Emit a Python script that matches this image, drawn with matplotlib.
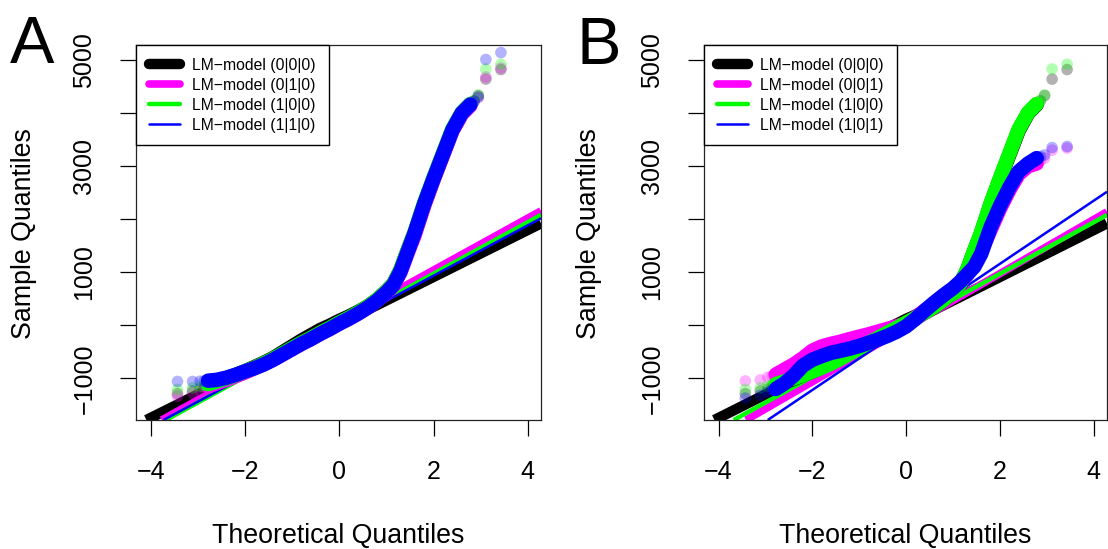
import numpy as np
import matplotlib
matplotlib.use('Agg')
import matplotlib.pyplot as plt
from matplotlib.lines import Line2D

plt.rcParams['font.family'] = ['Liberation Sans', 'DejaVu Sans']

# ---------------- data ----------------
theo_q = [-3.43, -3.11, -2.95, -2.86, -2.78, -2.6, -2.4, -2.2, -2.0, -1.8,
          -1.6, -1.4, -1.2, -1.0, -0.8, -0.6, -0.4, -0.2, 0.0, 0.2,
          0.4, 0.6, 0.8, 1.0, 1.15, 1.3, 1.45, 1.6, 1.8, 2.0,
          2.2, 2.4, 2.6, 2.78, 2.86, 2.95, 3.11, 3.43]

# LM-model (0|0|0)
s_000 = [-1290, -1240, -1200, -1170, -1140, -1080, -1010, -940, -870, -790,
         -710, -620, -510, -400, -290, -190, -90, -10, 80, 160,
         250, 350, 480, 640, 780, 1040, 1400, 1740, 2280, 2760,
         3220, 3680, 4000, 4160, 4230, 4330, 4640, 4820]
# LM-model (0|1|0)
s_010 = [-1340, -1280, -1230, -1190, -1150, -1090, -1030, -960, -890, -810,
         -730, -650, -550, -450, -350, -260, -160, -70, 30, 120,
         220, 330, 460, 610, 750, 1000, 1360, 1700, 2250, 2740,
         3200, 3660, 3980, 4140, 4220, 4300, 4680, 4850]
# LM-model (1|0|0)
s_100 = [-1210, -1180, -1150, -1130, -1110, -1060, -1000, -940, -870, -800,
         -720, -630, -530, -430, -330, -240, -140, -50, 50, 140,
         240, 350, 480, 640, 780, 1050, 1410, 1760, 2300, 2780,
         3240, 3700, 4010, 4170, 4240, 4340, 4830, 4920]
# LM-model (1|1|0)
s_110 = [-1060, -1060, -1055, -1050, -1045, -1030, -990, -935, -870, -810,
         -740, -650, -550, -450, -350, -260, -160, -70, 30, 120,
         220, 330, 460, 620, 760, 1020, 1380, 1740, 2280, 2760,
         3220, 3680, 4000, 4160, 4220, 4300, 5010, 5140]
# LM-model (0|0|1)
s_001 = [-1050, -1030, -980, -960, -930, -840, -740, -620, -480, -400,
         -350, -310, -260, -215, -170, -120, -70, -20, 40, 150,
         280, 410, 540, 680, 800, 950, 1150, 1400, 1800, 2200,
         2550, 2850, 3000, 3050, 3100, 3150, 3300, 3340]
# LM-model (1|0|1)
s_101 = [-1375, -1320, -1260, -1230, -1200, -1100, -950, -760, -650, -580,
         -520, -480, -440, -390, -330, -270, -200, -120, -20, 120,
         280, 430, 570, 700, 820, 960, 1100, 1350, 1850, 2250,
         2600, 2900, 3050, 3150, 3180, 3210, 3350, 3370]

labels_A = ['LM\u2212model (0|0|0)', 'LM\u2212model (0|1|0)',
            'LM\u2212model (1|0|0)', 'LM\u2212model (1|1|0)']
labels_B = ['LM\u2212model (0|0|0)', 'LM\u2212model (0|0|1)',
            'LM\u2212model (1|0|0)', 'LM\u2212model (1|0|1)']

# qqline intercepts / slopes
line_int_A = [25, 59, 0, -16]
line_slope_A = [443, 490, 486, 475]
line_int_B = [25, -45, 0, -30]
line_slope_B = [443, 510, 486, 595]

xticks = [-4, -2, 0, 2, 4]
xtick_labels = ['\u22124', '\u22122', '0', '2', '4']
yticks = [-1000, 0, 1000, 2000, 3000, 4000, 5000]
ytick_labels = ['\u22121000', '', '1000', '', '3000', '', '5000']

# ---------------- styles ----------------
colors = ['#000000', '#FF00FF', '#00FF00', '#0000FF']
lws = [7.5, 5.5, 3.2, 1.8]

W, H = 1108, 549
fig = plt.figure(figsize=(W / 100, H / 100), dpi=100)


def make_axes(left, right, top, bottom):
    return fig.add_axes([left / W, (H - bottom) / H, (right - left) / W,
                         (bottom - top) / H])


def panel(ax, series, labels, ints, slopes):
    x = np.array(theo_q)
    handles = []
    for c, lw, b, m, lab in zip(colors, lws, ints, slopes, labels):
        ax.axline((0, b), slope=m, color=c, lw=lw, solid_capstyle='butt',
                  zorder=2)
        handles.append(Line2D([], [], color=c, lw=lw, solid_capstyle='round',
                              label=lab))
    for yv, c in zip(series, colors):
        y = np.array(yv)
        ax.scatter(x, y, s=70, color=c, alpha=0.3, edgecolors='none',
                   zorder=3)
        dense = np.abs(x) <= 2.78
        ax.plot(x[dense], y[dense], color=c, lw=10.5, solid_capstyle='round',
                solid_joinstyle='round', zorder=3)
    ax.set_xlim(-4.31, 4.28)
    ax.set_ylim(-1786, 5283)
    ax.set_xticks(xticks)
    ax.set_xticklabels(xtick_labels)
    ax.set_yticks(yticks)
    ax.set_yticklabels(ytick_labels, rotation=90, va='center')
    ax.tick_params(direction='out', length=11.5, width=0.9, labelsize=18,
                   pad=17)
    for sp in ax.spines.values():
        sp.set_linewidth(0.9)
        sp.set_color('#222222')
    leg = ax.legend(handles=handles, loc='upper left', borderaxespad=0,
                    fontsize=11.3, fancybox=False, framealpha=1,
                    edgecolor='black', borderpad=0.8, labelspacing=0.32,
                    handlelength=2.0, handletextpad=0.8)
    leg.get_frame().set_linewidth(1.0)
    leg.set_zorder(5)


axA = make_axes(136, 541, 45, 420)
axB = make_axes(704, 1107, 45, 420)
panel(axA, [s_000, s_010, s_100, s_110], labels_A, line_int_A, line_slope_A)
panel(axB, [s_000, s_001, s_100, s_101], labels_B, line_int_B, line_slope_B)

for cx, lx in [((136 + 541) / 2, 24), ((704 + 1107) / 2, 589)]:
    fig.text(cx / W, 6 / H, 'Theoretical Quantiles', fontsize=19.3,
             ha='center', va='baseline')
    fig.text(lx / W, (H - 234) / H, 'Sample Quantiles', fontsize=19.3,
             ha='center', va='center', rotation=90)

fig.text(10 / W, (H - 63) / H, 'A', fontsize=48, ha='left', va='baseline')
fig.text(577 / W, (H - 64) / H, 'B', fontsize=48, ha='left', va='baseline')

fig.savefig('out.png', dpi=100)
